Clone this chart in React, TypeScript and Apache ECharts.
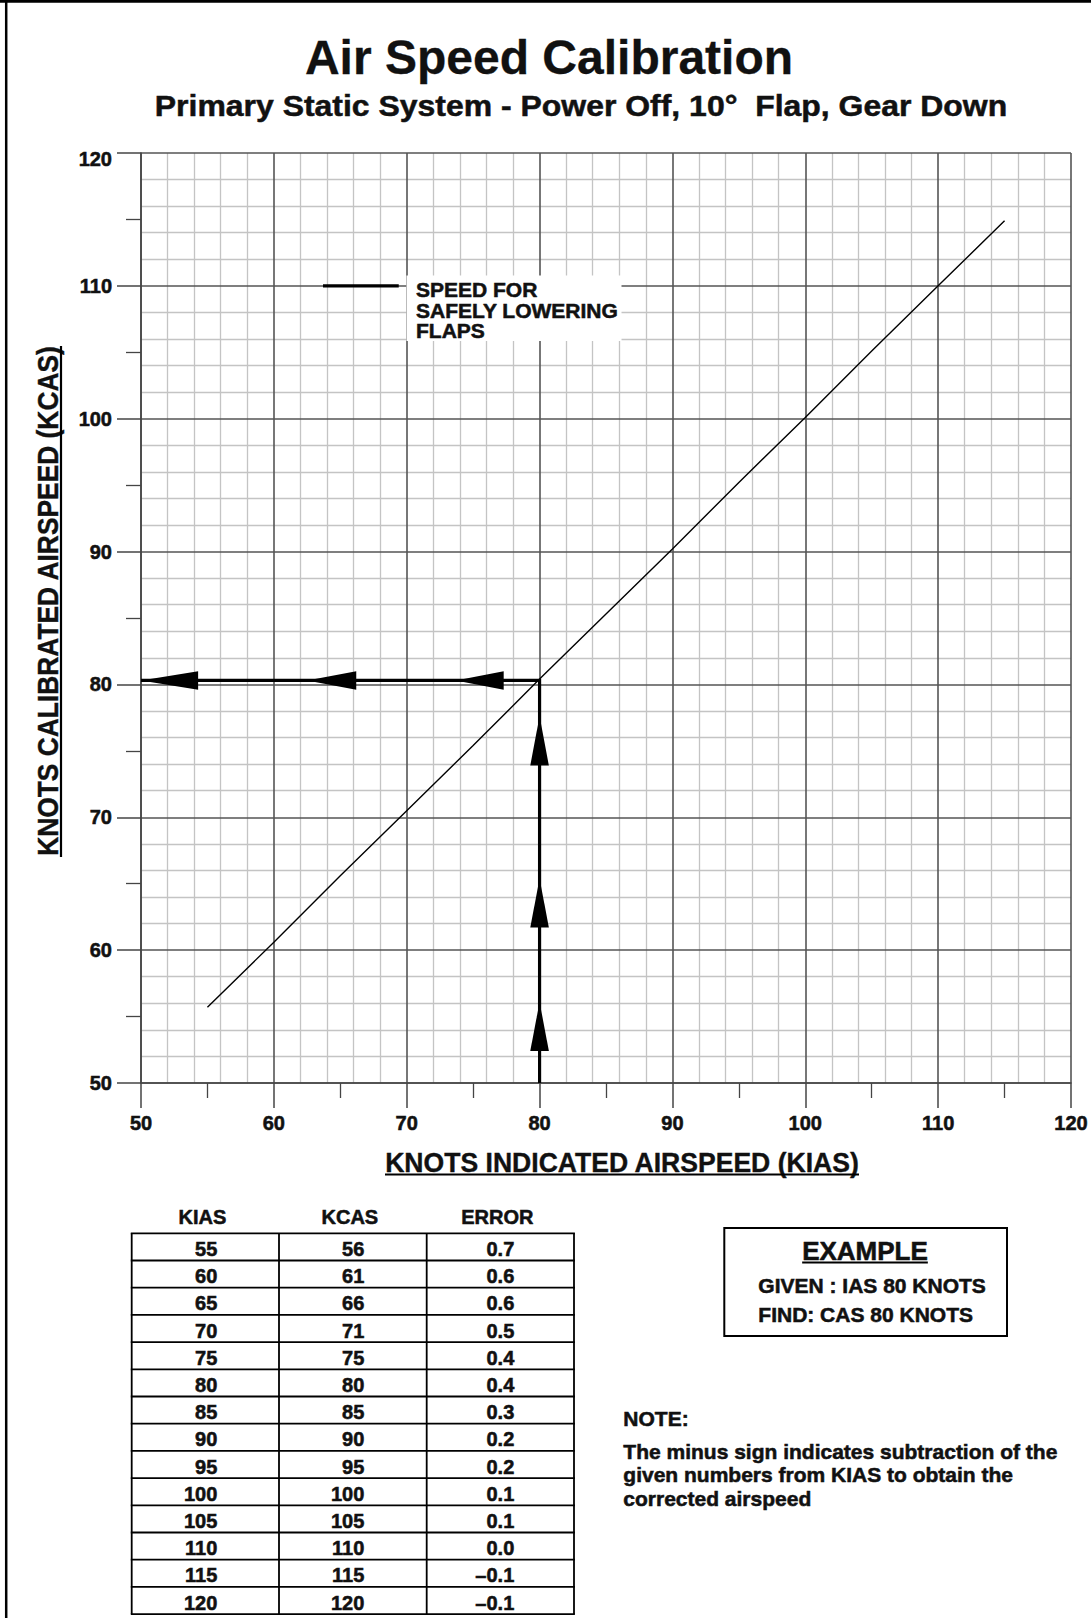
import React, { useEffect, useRef } from "react";
import * as echarts from "echarts";

const FONT = "'Liberation Sans', Arial, Helvetica, sans-serif";

// ---- axis ----
const AXIS_MIN = 50;
const AXIS_MAX = 120;
const AXIS_STEP = 10;
const xTickLabels = ["50", "60", "70", "80", "90", "100", "110", "120"];
const yTickLabels = ["50", "60", "70", "80", "90", "100", "110", "120"];

// ---- calibration curve as drawn (KIAS -> KCAS) ----
const curveKIAS = [55, 60, 65, 70, 75, 80, 85, 90, 95, 100, 105, 110, 115];
const curveKCAS = [55.7, 60.6, 65.6, 70.5, 75.4, 80.4, 85.3, 90.2, 95.2, 100.1, 105.1, 110.0, 114.9];

// ---- example path (IAS 80 -> CAS 80) ----
const examplePathX = [80, 80, 50];
const examplePathY = [50, 80.3, 80.3];
const upArrowTipY = [77.6, 65.4, 56.1];
const upArrowBaseY = [73.9, 61.7, 52.4];
const leftArrowTipX = [50.0, 62.5, 73.7];
const leftArrowBaseX = [54.3, 66.2, 77.3];

// ---- "speed for safely lowering flaps" marker ----
const flapMarkerX = [63.7, 69.4];
const flapMarkerY = [110, 110];

// ---- table ----
const tableHeaders = ["KIAS", "KCAS", "ERROR"];
const tableKIAS = ["55", "60", "65", "70", "75", "80", "85", "90", "95", "100", "105", "110", "115", "120"];
const tableKCAS = ["56", "61", "66", "71", "75", "80", "85", "90", "95", "100", "105", "110", "115", "120"];
const tableError = ["0.7", "0.6", "0.6", "0.5", "0.4", "0.4", "0.3", "0.2", "0.2", "0.1", "0.1", "0.0", "\u20130.1", "\u20130.1"];

// ---- texts ----
const TITLE = "Air Speed Calibration";
const SUBTITLE = "Primary Static System - Power Off, 10\u00B0  Flap, Gear Down";
const X_NAME = "KNOTS INDICATED AIRSPEED (KIAS)";
const Y_NAME = "KNOTS CALIBRATED AIRSPEED (KCAS)";
const FLAP_TEXT = ["SPEED FOR", "SAFELY LOWERING", "FLAPS"];
const EXAMPLE_TITLE = "EXAMPLE";
const EXAMPLE_LINES = ["GIVEN : IAS 80 KNOTS", "FIND: CAS 80 KNOTS"];
const NOTE_TITLE = "NOTE:";
const NOTE_LINES = [
  "The minus sign indicates subtraction of the",
  "given numbers from KIAS to obtain the",
  "corrected airspeed",
];

const W = 1091;
const H = 1618;

export default function App() {
  const ref = useRef<HTMLDivElement>(null);

  useEffect(() => {
    const el = ref.current!;
    const chart = echarts.init(el, null, { renderer: "svg" });
    const ctx = document.createElement("canvas").getContext("2d")!;
    const measure = (t: string, size: number) => {
      ctx.font = `bold ${size}px ${FONT}`;
      return ctx.measureText(t).width;
    };
    const font = (size: number) => `bold ${size}px ${FONT}`;

    const txt = (
      text: string,
      x: number,
      y: number,
      size: number,
      align: string = "left",
      extra: any = {},
      strokeW: number = 0.55
    ) => ({
      type: "text",
      x,
      y,
      z: 20,
      silent: true,
      ...extra,
      style: {
        text,
        font: font(size),
        fill: "#111",
        stroke: strokeW > 0 ? "#111" : null,
        lineWidth: strokeW,
        textAlign: align,
        textVerticalAlign: "middle",
      },
    });
    const hline = (x1: number, x2: number, y: number, w: number, z = 20) => ({
      type: "line",
      z,
      silent: true,
      shape: { x1, y1: y, x2, y2: y },
      style: { stroke: "#000", lineWidth: w },
    });
    const vline = (x: number, y1: number, y2: number, w: number, z = 20) => ({
      type: "line",
      z,
      silent: true,
      shape: { x1: x, y1, x2: x, y2 },
      style: { stroke: "#000", lineWidth: w },
    });

    const graphics: any[] = [];
    // page frame (top & left)
    graphics.push(hline(0, W, 1.4, 2.8));
    graphics.push(vline(6.2, 0, H, 2.5));

    // title & subtitle
    graphics.push(txt(TITLE, 549, 57, 48, "center", {}, 0.3));
    const subSize = 29;
    const subScale = 853 / measure(SUBTITLE, subSize);
    graphics.push(txt(SUBTITLE, 581, 105.5, subSize, "center", { scaleX: subScale }, 0.5));

    // x axis name with underline
    const xnSize = 28;
    const xnScale = 475 / measure(X_NAME, xnSize);
    graphics.push(txt(X_NAME, 622, 1162, xnSize, "center", { scaleX: xnScale }, 0.4));
    graphics.push(hline(385, 859, 1174.5, 2.2));

    // y axis name (rotated) with underline
    const ynSize = 30;
    const ynScale = 511 / measure(Y_NAME, ynSize);
    graphics.push(
      txt(Y_NAME, 47.5, 601, ynSize, "center", { scaleX: ynScale, rotation: Math.PI / 2 }, 0.4)
    );
    graphics.push(vline(61, 346, 857, 2.2));

    // flap marker label with white backing
    graphics.push({
      type: "rect",
      z: 15,
      silent: true,
      shape: { x: 406.5, y: 275.5, width: 215, height: 65.5 },
      style: { fill: "#fff" },
    });
    const flapYs = [289, 310.3, 330.5];
    FLAP_TEXT.forEach((t, i) => graphics.push(txt(t, 416, flapYs[i], 21, "left")));

    // table
    const colX = [131.7, 279, 426.7, 574];
    const colRight = [217.3, 364.3, 514.3];
    const tTop = 1233.3;
    const rowH = 27.2;
    const nRows = tableKIAS.length;
    const tBottom = tTop + rowH * nRows;
    tableHeaders.forEach((h, i) =>
      graphics.push(txt(h, (colX[i] + colX[i + 1]) / 2 - 3, 1217.2, 20, "center"))
    );
    for (let r = 0; r <= nRows; r++) graphics.push(hline(colX[0] - 0.9, colX[3] + 0.9, tTop + r * rowH, 1.8));
    colX.forEach((x) => graphics.push(vline(x, tTop, tBottom, 1.8)));
    const cols = [tableKIAS, tableKCAS, tableError];
    for (let r = 0; r < nRows; r++) {
      const cy = tTop + rowH * (r + 0.5) + 2;
      cols.forEach((col, c) => graphics.push(txt(col[r], colRight[c], cy, 20, "right")));
    }

    // example box
    graphics.push({
      type: "rect",
      z: 20,
      silent: true,
      shape: { x: 724.3, y: 1228, width: 282.7, height: 108 },
      style: { fill: "none", stroke: "#000", lineWidth: 2 },
    });
    graphics.push(txt(EXAMPLE_TITLE, 865, 1251, 26, "center"));
    const exW = measure(EXAMPLE_TITLE, 26);
    graphics.push(hline(865 - exW / 2, 865 + exW / 2, 1262.5, 2));
    graphics.push(txt(EXAMPLE_LINES[0], 758.3, 1285, 21, "left"));
    graphics.push(txt(EXAMPLE_LINES[1], 758.3, 1314, 21, "left"));

    // note
    graphics.push(txt(NOTE_TITLE, 623.3, 1418.3, 21, "left"));
    const noteYs = [1451, 1474.5, 1498.5];
    NOTE_LINES.forEach((t, i) => graphics.push(txt(t, 623.3, noteYs[i], 21, "left")));

    const axisLabel = (labels: string[], margin: number, dropTop: boolean) => ({
      margin,
      fontSize: 20,
      fontWeight: "bold",
      fontFamily: FONT,
      color: "#111",
      textBorderColor: "#111",
      textBorderWidth: 0.55,
      rich: {
        top: {
          fontSize: 20,
          fontWeight: "bold",
          fontFamily: FONT,
          color: "#111",
          textBorderColor: "#111",
          textBorderWidth: 0.55,
          padding: [12, 0, 0, 0],
        },
      },
      formatter: (v: number) => {
        const s = labels[Math.round((v - AXIS_MIN) / AXIS_STEP)] ?? "";
        return dropTop && v === AXIS_MAX ? `{top|${s}}` : s;
      },
    });

    const mainAxis = (
      labels: string[],
      tickLen: number,
      margin: number,
      position: string,
      dropTop: boolean
    ) => ({
      type: "value",
      position,
      min: AXIS_MIN,
      max: AXIS_MAX,
      interval: AXIS_STEP,
      z: 1,
      axisLine: { show: true, onZero: false, lineStyle: { color: "#454545", width: 1.6 } },
      axisTick: { show: true, length: tickLen, lineStyle: { color: "#454545", width: 1.5 } },
      minorTick: { show: true, splitNumber: 2, length: 15, lineStyle: { color: "#454545", width: 1.3 } },
      splitLine: { show: true, lineStyle: { color: "#555", width: 1.6 } },
      minorSplitLine: { show: false },
      axisLabel: axisLabel(labels, margin, dropTop),
    });
    const minorAxis = (position: string) => ({
      type: "value",
      position,
      min: AXIS_MIN,
      max: AXIS_MAX,
      interval: AXIS_STEP,
      z: 0,
      axisLine: { show: false },
      axisTick: { show: false },
      axisLabel: { show: false },
      splitLine: { show: false },
      minorTick: { show: false, splitNumber: 5 },
      minorSplitLine: { show: true, lineStyle: { color: "#c4c4c4", width: 1.3 } },
    });

    const option: any = {
      animation: false,
      backgroundColor: "#fff",
      grid: { left: 141, top: 153, width: 930, height: 930, containLabel: false },
      xAxis: [mainAxis(xTickLabels, 25, 30, "bottom", false), minorAxis("bottom")],
      yAxis: [mainAxis(yTickLabels, 24, 29, "left", true), minorAxis("left")],
      series: [
        {
          type: "line",
          name: "calibration",
          xAxisIndex: 0,
          yAxisIndex: 0,
          z: 3,
          silent: true,
          symbol: "none",
          data: curveKIAS.map((x, i) => [x, curveKCAS[i]]),
          lineStyle: { color: "#000", width: 1.4 },
        },
        {
          type: "line",
          name: "example",
          xAxisIndex: 0,
          yAxisIndex: 0,
          z: 4,
          silent: true,
          symbol: "none",
          data: examplePathX.map((x, i) => [x, examplePathY[i]]),
          lineStyle: { color: "#000", width: 3.2, join: "miter" },
        },
        {
          type: "line",
          name: "flap",
          xAxisIndex: 0,
          yAxisIndex: 0,
          z: 4,
          silent: true,
          symbol: "none",
          data: flapMarkerX.map((x, i) => [x, flapMarkerY[i]]),
          lineStyle: { color: "#000", width: 3.4 },
        },
        {
          type: "custom",
          name: "arrows",
          xAxisIndex: 0,
          yAxisIndex: 0,
          z: 5,
          silent: true,
          encode: { x: [0, 2], y: [1, 3] },
          data: [
            ...upArrowTipY.map((t, i) => [examplePathX[0], t, examplePathX[0], upArrowBaseY[i]]),
            ...leftArrowTipX.map((t, i) => [t, examplePathY[2], leftArrowBaseX[i], examplePathY[2]]),
          ],
          renderItem: (params: any, api: any) => {
            const tip = api.coord([api.value(0), api.value(1)]);
            const base = api.coord([api.value(2), api.value(3)]);
            const dx = tip[0] - base[0];
            const dy = tip[1] - base[1];
            const len = Math.hypot(dx, dy) || 1;
            const half = 9.3;
            const nx = (-dy / len) * half;
            const ny = (dx / len) * half;
            return {
              type: "polygon",
              shape: {
                points: [tip, [base[0] + nx, base[1] + ny], [base[0] - nx, base[1] - ny]],
              },
              style: { fill: "#000" },
            };
          },
        },
      ],
      graphic: { elements: graphics },
    };

    chart.setOption(option);
    return () => chart.dispose();
  }, []);

  return (
    <div
      ref={ref}
      style={{ position: "absolute", left: 0, top: 0, width: W, height: H, background: "#fff" }}
    />
  );
}
